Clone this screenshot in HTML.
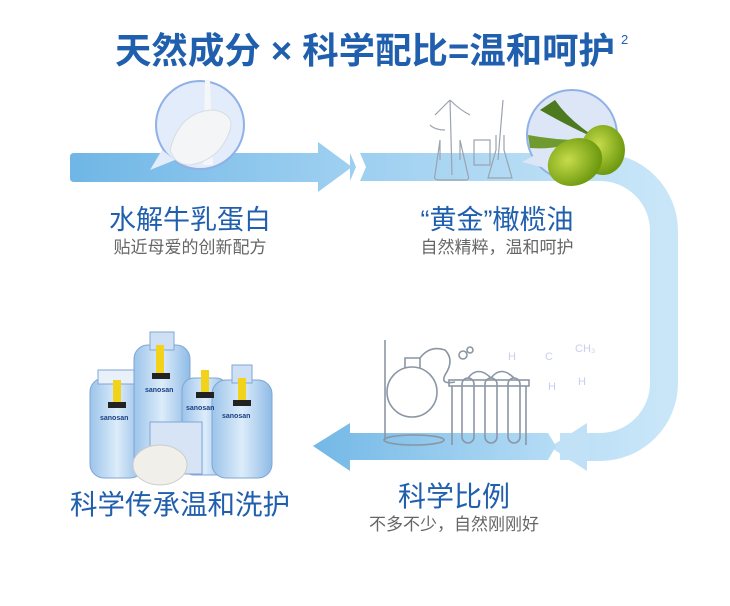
<!DOCTYPE html>
<html><head><meta charset="utf-8"><style>
html,body{margin:0;padding:0;background:#fff;}
svg{display:block}
text{font-family:"Liberation Sans","Noto Sans CJK SC",sans-serif}
</style></head><body>
<svg width="730" height="606" viewBox="0 0 730 606" xmlns="http://www.w3.org/2000/svg">
<defs>
<linearGradient id="g1" x1="0" x2="1"><stop offset="0" stop-color="#6fb6e6"/><stop offset="1" stop-color="#9fd0f1"/></linearGradient>
<linearGradient id="g2" x1="0" x2="1"><stop offset="0" stop-color="#9dcff0"/><stop offset="1" stop-color="#c9e6f8"/></linearGradient>
<linearGradient id="g3" x1="0" x2="1"><stop offset="0" stop-color="#73b8e6"/><stop offset="1" stop-color="#b5dcf5"/></linearGradient>
<radialGradient id="olive" cx="0.4" cy="0.4" r="0.6"><stop offset="0" stop-color="#c6dc4a"/><stop offset="1" stop-color="#6f9a10"/></radialGradient>
<linearGradient id="bot" x1="0" x2="1"><stop offset="0" stop-color="#9cc4ea"/><stop offset="0.5" stop-color="#dcecfa"/><stop offset="1" stop-color="#8fbbe6"/></linearGradient>
</defs>

<text x="365" y="63" text-anchor="middle" font-size="36" font-weight="bold" fill="#1f5fae" textLength="500" lengthAdjust="spacingAndGlyphs">天然成分 × 科学配比=温和呵护</text>
<text x="621" y="44" font-size="13" fill="#1f5fae">2</text>

<path d="M70,157 Q70,153 74,153 H318 V142 L352,167 L318,192 V182 H74 Q70,182 70,178 Z" fill="url(#g1)"/>
<path d="M355,167 H600 A64 64 0 0 1 664 231 V383 A64 64 0 0 1 600 447 H570" fill="none" stroke="url(#g2)" stroke-width="28"/>
<path d="M350,153 H360 L366,167 L360,181 H350 Z" fill="#fff"/>
<path d="M350,153 L356,167 L350,181" fill="#9dcff0"/>
<path d="M587,423 L550,447 L587,471 Z" fill="#bfe0f6"/>
<path d="M560,433 H590 V460 H560 Z" fill="#c0e1f6"/>
<path d="M548,433 L556,446 L548,460 H350 V471 L313,446 L350,423 V433 Z" fill="url(#g3)"/>

<circle cx="200" cy="125" r="44" fill="#e2ecfb" stroke="#8fb1e6" stroke-width="2"/>
<path d="M162,150 L150,170 L175,160 Z" fill="#e2ecfb"/>
<path d="M205,80 L210,80 L213,165 L203,165 Z" fill="#f4f6f8"/>
<path d="M170,150 Q180,110 215,110 Q235,115 230,130 Q220,160 190,165 Q175,165 170,150 Z" fill="#f3f5f7" stroke="#d8dde3"/>

<circle cx="572" cy="135" r="45" fill="#dce6f7" stroke="#8fb1e6" stroke-width="2"/>
<path d="M535,155 L522,162 L545,168 Z" fill="#dce6f7"/>
<path d="M540,110 Q575,130 600,140 Q570,122 555,100 Z" fill="#4d7a1f"/>
<path d="M528,135 Q555,140 580,140 Q560,150 530,148 Z" fill="#6f9a30"/>
<ellipse cx="603" cy="150" rx="22" ry="25" fill="url(#olive)"/>
<ellipse cx="575" cy="162" rx="28" ry="23" fill="url(#olive)" transform="rotate(-25 575 162)"/>

<g fill="none" stroke="#9aa3ae" stroke-width="1.2">
<path d="M440,160 L440,140 L435,175 Q433,180 440,180 H465 Q470,180 468,175 L460,140 V160"/>
<path d="M450,100 Q440,110 435,115 M450,100 Q460,110 470,115 M450,100 L452,175 M445,130 Q435,130 430,125"/>
<rect x="474" y="140" width="16" height="25"/>
<path d="M496,135 V150 L488,178 H512 L504,150 V135 M503,100 L498,160"/>
</g>

<text x="190" y="229" text-anchor="middle" font-size="27" fill="#1f5fae">水解牛乳蛋白</text>
<text x="190" y="253" text-anchor="middle" font-size="17" fill="#666">贴近母爱的创新配方</text>
<text x="497" y="229" text-anchor="middle" font-size="27" fill="#1f5fae">“黄金”橄榄油</text>
<text x="497" y="253" text-anchor="middle" font-size="17" fill="#666">自然精粹，温和呵护</text>

<g fill="none" stroke="#8a96a4" stroke-width="1.6">
<path d="M385,340 V440"/>
<ellipse cx="414" cy="440" rx="30" ry="5"/>
<circle cx="412" cy="392" r="25"/>
<path d="M405,368 V358 H420 V368"/>
<path d="M420,358 Q430,345 445,350 Q455,360 445,375 Q440,385 455,382"/>
<rect x="449" y="380" width="80" height="6"/>
<path d="M452,386 V445 M526,386 V445"/>
<rect x="462" y="378" width="12" height="65" rx="6"/>
<rect x="485" y="378" width="12" height="65" rx="6"/>
<rect x="508" y="378" width="12" height="65" rx="6"/>
<path d="M468,378 Q478,365 491,378 M491,378 Q501,365 514,378"/>
<circle cx="463" cy="355" r="4"/><circle cx="470" cy="350" r="3"/>
</g>
<g fill="#c8d0ee" font-size="11"><text x="508" y="360">H</text><text x="545" y="360">C</text><text x="575" y="352">CH₃</text><text x="548" y="390">H</text><text x="578" y="385">H</text></g>

<text x="454" y="506" text-anchor="middle" font-size="28" fill="#1f5fae">科学比例</text>
<text x="454" y="530" text-anchor="middle" font-size="17" fill="#666">不多不少，自然刚刚好</text>

<g stroke="#7fa6d6" stroke-width="1">
<rect x="90" y="378" width="54" height="100" rx="14" fill="url(#bot)"/>
<rect x="98" y="370" width="38" height="14" fill="#e8f0fa"/>
<rect x="134" y="345" width="56" height="125" rx="14" fill="url(#bot)"/>
<rect x="150" y="332" width="24" height="18" fill="#cfe0f4"/>
<rect x="182" y="378" width="46" height="97" rx="12" fill="url(#bot)"/>
<rect x="212" y="380" width="60" height="98" rx="14" fill="url(#bot)"/>
<rect x="232" y="365" width="20" height="18" fill="#cfe0f4"/>
<rect x="150" y="422" width="52" height="52" fill="#d6e4f6"/>
</g>
<g fill="#f2d31a"><rect x="113" y="380" width="8" height="22"/><rect x="156" y="345" width="8" height="28"/><rect x="201" y="370" width="8" height="22"/><rect x="238" y="378" width="8" height="22"/></g>
<g fill="#222"><rect x="108" y="402" width="18" height="6"/><rect x="152" y="373" width="18" height="6"/><rect x="196" y="392" width="18" height="6"/><rect x="233" y="400" width="18" height="6"/></g>
<g font-size="7" font-weight="bold" fill="#1a3f80"><text x="100" y="420">sanosan</text><text x="145" y="392">sanosan</text><text x="186" y="410">sanosan</text><text x="222" y="418">sanosan</text></g>
<ellipse cx="160" cy="465" rx="27" ry="20" fill="#f1efe9" stroke="#ccc"/>

<text x="180" y="514" text-anchor="middle" font-size="27.5" fill="#1f5fae">科学传承温和洗护</text>
</svg>
</body></html>
